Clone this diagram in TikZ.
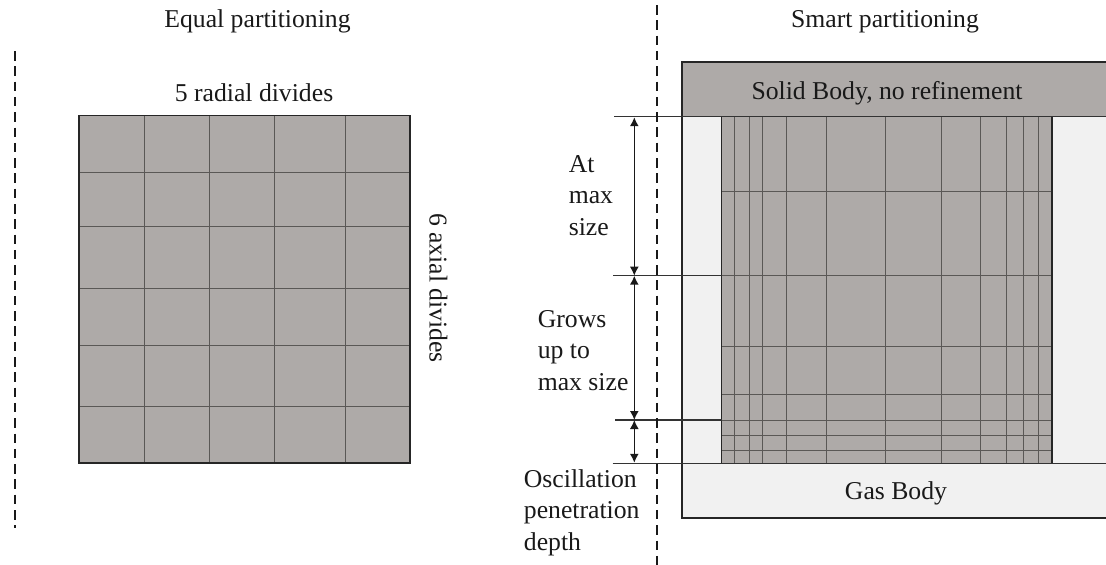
\documentclass[tikz,border=0pt]{standalone}
\usepackage{fontspec}
\setmainfont{Liberation Serif}
\usetikzlibrary{arrows.meta}
\definecolor{solidgray}{HTML}{AEAAA8}
\definecolor{gaslight}{HTML}{F1F1F1}
\definecolor{gridline}{HTML}{5A5856}
\tikzset{
  label/.style={inner sep=0pt,text=black!90,font=\fontsize{25.7}{31}\selectfont},
  outline/.style={draw=black!85,line width=1.8pt},
  meshline/.style={draw=gridline,line width=1pt},
  leader/.style={draw=black!80,line width=1.5pt},
  dim/.style={draw=black!90,line width=1.5pt,{Latex[length=9pt,width=9pt]}-{Latex[length=9pt,width=9pt]}},
  axisline/.style={draw=black!90,line width=2pt,dash pattern=on 9.5pt off 5.8pt}
}
\begin{document}
\begin{tikzpicture}[x=1pt,y=-1pt]
\useasboundingbox (0,0) rectangle (1106,565);
% left mesh
\fill[solidgray] (79,115.5) rectangle (410,463.3);
\foreach \x in {144.3,209.3,274.7,345.3} \draw[meshline] (\x,115.5) -- (\x,463.3);
\foreach \y in {172.3,226.3,288.3,345,406.3} \draw[meshline] (79,\y) -- (410,\y);
\draw[outline] (79,115.5) rectangle (410,463.3);
% left axis
\coordinate (la) at (14.7,51);
\coordinate (lb) at (14.7,528);
\draw[axisline] (la) -- (lb);
% right bodies
\fill[gaslight] (682.3,116.5) rectangle (1106,518);
\fill[solidgray] (682.3,62) rectangle (1106,116.5);
\draw[outline] (1106,62) -- (682.3,62) -- (682.3,116.5);
\draw[outline] (1106,518) -- (682.3,518) -- (682.3,116.5);
% right mesh
\fill[solidgray] (721.5,116.5) rectangle (1052,463.5);
\foreach \x in {734.4,749,762.4,786,826,885.5,941,980.7,1006,1023.4,1038.3} \draw[meshline] (\x,116.5) -- (\x,463.5);
\foreach \y in {191.7,275.7,346,394.3,420,435.3,450.8} \draw[meshline] (721.5,\y) -- (1052,\y);
\draw[outline] (721.5,116.5) -- (721.5,463.5);
\draw[outline] (1052,116.5) -- (1052,463.5);
% leaders
\coordinate (t1) at (614,116.5); \coordinate (t2) at (1106,116.5);
\coordinate (m1) at (613,275.7); \coordinate (m2) at (721.5,275.7);
\coordinate (n1) at (615,420);   \coordinate (n2) at (721.5,420);
\coordinate (b1) at (612.7,463.5); \coordinate (b2) at (1106,463.5);
\draw[leader] (t1) -- (t2);
\draw[leader] (m1) -- (m2);
\draw[leader] (n1) -- (n2);
\draw[leader] (b1) -- (b2);
% dimension arrows
\coordinate (d1) at (634.3,117.2);
\coordinate (d2) at (634.3,275.7);
\coordinate (d3) at (634.3,420);
\coordinate (d4) at (634.3,462.8);
\draw[dim] (d1) -- (d2);
\draw[dim] (d2) -- (d3);
\draw[dim] (d3) -- (d4);
% centre axis
\coordinate (ca) at (656.7,5);
\coordinate (cb) at (656.7,565);
\draw[axisline] (ca) -- (cb);
% labels
\node[label,anchor=base] (eq) at (257.5,27.5) {Equal partitioning};
\node[label,anchor=base] (sm) at (885,27.5) {Smart partitioning};
\node[label,anchor=base] (rad) at (254,101.7) {5 radial divides};
\node[label,anchor=base,rotate=-90] (ax) at (429.5,288) {6 axial divides};
\node[label,anchor=base] (sol) at (887,99) {Solid Body, no refinement};
\node[label,anchor=base] (gas) at (896,499) {Gas Body};
\node[label,anchor=base west] (a1) at (568.6,172.7) {At};
\node[label,anchor=base west] (a2) at (568.6,203.7) {max};
\node[label,anchor=base west] (a3) at (568.6,235) {size};
\node[label,anchor=base west] (g1) at (537.6,327.7) {Grows};
\node[label,anchor=base west] (g2) at (537.6,358.7) {up to};
\node[label,anchor=base west] (g3) at (537.6,390) {max size};
\node[label,anchor=base west] (o1) at (523.7,487.7) {Oscillation};
\node[label,anchor=base west] (o2) at (523.7,518.7) {penetration};
\node[label,anchor=base west] (o3) at (523.7,550) {depth};
\end{tikzpicture}
\end{document}
